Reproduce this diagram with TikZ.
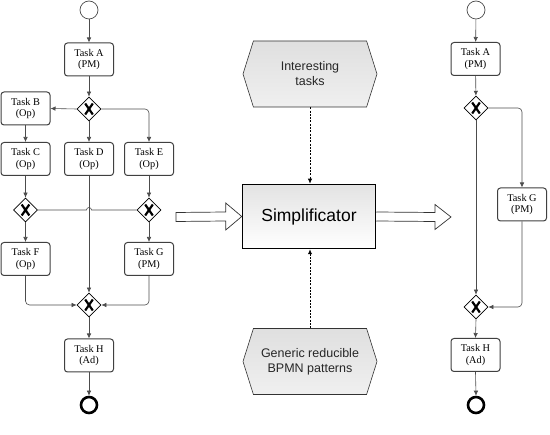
\documentclass[tikz,border=0pt]{standalone}
\usepackage{fontspec}
\setmainfont{Liberation Serif}
\setsansfont{Liberation Sans}
\usetikzlibrary{shapes.geometric,shapes.symbols,arrows.meta,calc}
\begin{document}
\begin{tikzpicture}[x=1pt,y=-1pt,
  flow/.style={draw=gray!60!black,line width=0.6pt,-{Latex[length=5pt,width=4.5pt]}},
  flowplain/.style={draw=gray!60!black,line width=0.6pt},
  task/.style={rectangle,rounded corners=3pt,draw=gray!50!black,line width=1pt,fill=white,
    minimum width=49pt,minimum height=33pt,inner sep=1pt,align=center,
    font=\fontsize{10.3}{11.5}\selectfont},
  gw/.style={diamond,draw=black,line width=0.7pt,fill=white,minimum width=24pt,minimum height=24pt,inner sep=0pt,
    path picture={\draw[line width=2.2pt,line cap=butt]
      ([shift={(-3.8pt,-5.5pt)}]path picture bounding box.center) -- ([shift={(3.8pt,5.5pt)}]path picture bounding box.center)
      ([shift={(-3.8pt,5.5pt)}]path picture bounding box.center) -- ([shift={(3.8pt,-5.5pt)}]path picture bounding box.center);}},
  startev/.style={circle,draw=gray!60!black,line width=0.7pt,minimum size=18pt,inner sep=0pt},
  endev/.style={circle,draw=black,line width=2.6pt,minimum size=16pt,inner sep=0pt},
  hexa/.style={signal,signal to=west and east,signal pointer angle=145,draw=gray!40!black,line width=0.6pt,
    top color=gray!25,bottom color=gray!12,minimum width=134pt,minimum height=66pt,inner sep=0pt,align=center,
    font=\sffamily\fontsize{12.5}{15}\selectfont,text=black!85},
  simp/.style={rectangle,draw=black,line width=1.5pt,top color=gray!22,bottom color=white,
    minimum width=133pt,minimum height=64pt,font=\sffamily\fontsize{17.5}{21}\selectfont},
  dashedarrow/.style={draw=black,line width=0.9pt,dash pattern=on 2pt off 1.3pt,-{Latex[length=5pt,width=4.5pt]}},
  bigarrow/.style={draw=black!80,line width=0.7pt,fill=white,line join=miter}
]
\useasboundingbox (0,0) rectangle (550,435);

% ---------- left diagram ----------
\node[startev] (s1) at (89,10) {};
\node[task] (A1) at (89,59.5) {Task A\\(PM)};
\node[gw] (g1) at (89,109) {};
\node[task] (B1) at (25.5,108.5) {Task B\\(Op)};
\node[task] (C1) at (25.5,159) {Task C\\(Op)};
\node[task] (D1) at (89,159) {Task D\\(Op)};
\node[task] (E1) at (149,159) {Task E\\(Op)};
\node[gw] (gC) at (25.5,210) {};
\node[gw] (gE) at (149,210) {};
\node[task] (F1) at (25.5,259) {Task F\\(Op)};
\node[task] (G1) at (149,259) {Task G\\(PM)};
\node[gw] (m1) at (89,305) {};
\node[task] (H1) at (89,355.5) {Task H\\(Ad)};
\node[endev] (e1) at (89,405) {};

\draw[flow] (s1) -- (A1);
\draw[flow] (A1) -- (g1);
\draw[flow] (g1.west) -- (B1.east);
\draw[flow] (g1.south) -- (D1.north);
\draw[flow,rounded corners=4pt] (g1.east) -| (E1.north);
\draw[flow] (B1) -- (C1);
\draw[flow] (C1.south) -- (gC.north);
\draw[flow] (E1.south) -- (gE.north);
\draw[flow] (gC.south) -- (F1.north);
\draw[flow] (gE.south) -- (G1.north);
\draw[flowplain] (gC.east) -- ($(gC.east -| D1.south)+(-2.5,0)$) arc (180:360:2.5) -- (gE.west);
\draw[flow] (D1.south) -- (m1.north);
\draw[flow,rounded corners=4pt] (F1.south) |- (m1.west);
\draw[flow,rounded corners=4pt] (G1.south) |- (m1.east);
\draw[flow] (m1.south) -- (H1.north);
\draw[flow] (H1.south) -- (e1.north);

% ---------- middle ----------
\node[hexa] (int) at (310,74) {Interesting\\tasks};
\node[simp] (S) at (309,216.5) {Simplificator};
\node[hexa] (gen) at (310,361.5) {Generic reducible\\BPMN patterns};
\draw[dashedarrow] (int.south) -- (int.south |- S.north);
\draw[dashedarrow] (gen.north) -- (gen.north |- S.south);

\coordinate (inL) at (176,217);
\coordinate (outR) at (451,217);
\draw[bigarrow] (inL) ++(0,-4.5) -- ($(S.west)+(-16,-4.5)$) -- ($(S.west)+(-16,-13.5)$) -- (S.west)
  -- ($(S.west)+(-16,13.5)$) -- ($(S.west)+(-16,4.5)$) -- ($(inL)+(0,4.5)$) -- cycle;
\draw[bigarrow] ($(S.east)+(0,-4.5)$) -- ($(outR)+(-16,-4.5)$) -- ($(outR)+(-16,-12.5)$) -- (outR)
  -- ($(outR)+(-16,12.5)$) -- ($(outR)+(-16,4.5)$) -- ($(S.east)+(0,4.5)$);

% ---------- right diagram ----------
\node[startev] (s2) at (476,10) {};
\node[task] (A2) at (475.5,59) {Task A\\(PM)};
\node[gw] (g2) at (476,108) {};
\node[task] (G2) at (522,204.5) {Task G\\(PM)};
\node[gw] (m2) at (476,307) {};
\node[task] (H2) at (475.5,355) {Task H\\(Ad)};
\node[endev] (e2) at (476,405) {};

\draw[flow] (s2) -- (A2);
\draw[flow] (A2) -- (g2);
\draw[flow,rounded corners=4pt] (g2.east) -| (G2.north);
\draw[flow] (g2.south) -- (m2.north);
\draw[flow,rounded corners=4pt] (G2.south) |- (m2.east);
\draw[flow] (m2.south) -- (H2.north);
\draw[flow] (H2.south) -- (e2.north);
\end{tikzpicture}
\end{document}
